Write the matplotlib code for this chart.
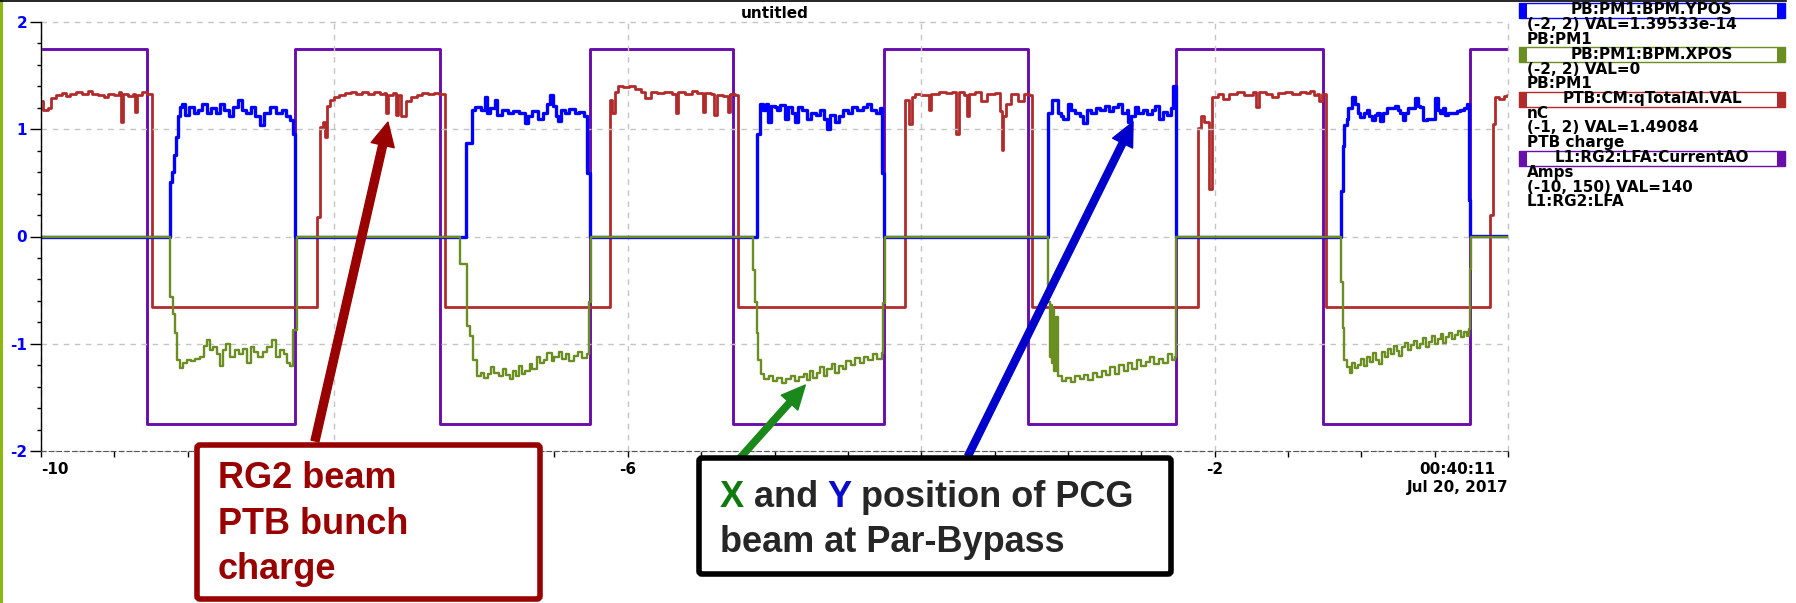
import matplotlib
matplotlib.use("Agg")
import matplotlib.pyplot as plt
from matplotlib.lines import Line2D
from matplotlib.patches import Rectangle, FancyBboxPatch
from matplotlib.ticker import MultipleLocator
from matplotlib.transforms import Affine2D

W, H, DPI = 1796, 603, 100

# StripTool archive, time in minutes relative to 00:40:11 (step samples)
ypos_t = [-10.0,
          -9.121, -9.107, -9.094, -9.08, -9.066, -9.053, -9.04, -9.02, -8.99, -8.96, -8.93,
          -8.90, -8.87, -8.84, -8.81, -8.78, -8.75, -8.72, -8.69, -8.66, -8.63, -8.60, -8.57,
          -8.54, -8.51, -8.48, -8.44, -8.40, -8.36, -8.33, -8.30, -8.285, -8.27,
          -7.103, -7.064, -7.04, -7.00, -6.975, -6.96, -6.94, -6.905, -6.89, -6.86, -6.82,
          -6.78, -6.74, -6.70, -6.68, -6.65, -6.61, -6.58, -6.55, -6.53, -6.51, -6.49, -6.474,
          -6.455, -6.43, -6.40, -6.36, -6.33, -6.30, -6.275, -6.258,
          -5.121, -5.099, -5.08, -5.06, -5.042, -5.025, -5.00, -4.98, -4.96, -4.93, -4.91,
          -4.88, -4.86, -4.84, -4.81, -4.78, -4.75, -4.72, -4.69, -4.66, -4.644, -4.62, -4.59,
          -4.56, -4.53, -4.50, -4.47, -4.44, -4.40, -4.37, -4.34, -4.31, -4.28, -4.265, -4.254,
          -3.134, -3.11, -3.07, -3.05, -3.03, -3.0, -2.98, -2.95, -2.92, -2.895, -2.87, -2.84,
          -2.81, -2.78, -2.75, -2.72, -2.69, -2.66, -2.63, -2.60, -2.588, -2.57, -2.545, -2.52,
          -2.49, -2.46, -2.43, -2.405, -2.38, -2.35, -2.325, -2.30, -2.285, -2.265,
          -1.138, -1.127, -1.115, -1.100, -1.089, -1.066, -1.043, -1.025, -1.009, -0.985,
          -0.964, -0.945, -0.929, -0.91, -0.895, -0.873, -0.85, -0.827, -0.80, -0.770, -0.75,
          -0.736, -0.714, -0.70, -0.680, -0.66, -0.634, -0.615, -0.600, -0.577, -0.55, -0.520,
          -0.498, -0.48, -0.464, -0.445, -0.430, -0.41, -0.384, -0.35, -0.327, -0.30, -0.282,
          -0.265, -0.259, 0.0]
ypos_v = [0.0,
          0.51, 0.60, 0.76, 0.93, 1.12, 1.21, 1.24, 1.13, 1.21, 1.15, 1.18,
          1.24, 1.15, 1.20, 1.15, 1.24, 1.18, 1.12, 1.21, 1.27, 1.18, 1.15, 1.21,
          1.12, 1.04, 1.15, 1.21, 1.15, 1.18, 1.12, 1.09, 0.96, 0.0,
          0.87, 1.18, 1.21, 1.18, 1.30, 1.15, 1.20, 1.27, 1.13, 1.18, 1.15,
          1.17, 1.15, 1.06, 1.12, 1.17, 1.10, 1.15, 1.24, 1.32, 1.22, 1.12, 1.08,
          1.18, 1.15, 1.19, 1.15, 1.16, 1.12, 0.59, 0.0,
          0.96, 1.24, 1.18, 1.24, 1.07, 1.22, 1.21, 1.18, 1.23, 1.10, 1.21,
          1.15, 1.07, 1.21, 1.18, 1.10, 1.15, 1.13, 1.18, 1.10, 1.00, 1.13, 1.07,
          1.12, 1.18, 1.15, 1.21, 1.18, 1.21, 1.24, 1.18, 1.15, 1.20, 0.59, 0.0,
          1.15, 1.27, 1.15, 1.12, 1.10, 1.24, 1.18, 1.15, 1.12, 1.06, 1.18, 1.15,
          1.20, 1.18, 1.22, 1.17, 1.21, 1.24, 1.15, 1.18, 1.07, 1.12, 1.21, 1.15,
          1.18, 1.14, 1.18, 1.22, 1.10, 1.16, 1.13, 1.20, 1.40, 0.0,
          0.42, 0.84, 1.04, 1.10, 1.195, 1.30, 1.24, 1.15, 1.117, 1.15,
          1.18, 1.12, 1.086, 1.13, 1.15, 1.08, 1.15, 1.195, 1.20, 1.22, 1.18,
          1.15, 1.086, 1.15, 1.195, 1.20, 1.29, 1.22, 1.21, 1.086, 1.10, 1.10,
          1.29, 1.18, 1.15, 1.20, 1.133, 1.15, 1.15, 1.17, 1.18, 1.20, 1.24,
          0.34, 1.39533e-14, 1.39533e-14]

xpos_t = [-10.0,
          -9.121, -9.098, -9.087, -9.075, -9.052, -9.03, -9.007, -8.98, -8.95, -8.916,
          -8.89, -8.870, -8.85, -8.825, -8.80, -8.780, -8.76, -8.74, -8.71, -8.68,
          -8.65, -8.62, -8.598, -8.57, -8.55, -8.519, -8.49, -8.462, -8.427, -8.40,
          -8.37, -8.345, -8.325, -8.303, -8.280, -8.257,
          -7.144, -7.098, -7.076, -7.053, -7.03, -7.00, -6.98, -6.95, -6.93, -6.91,
          -6.88, -6.85, -6.83, -6.80, -6.78, -6.76, -6.74, -6.72, -6.70, -6.67,
          -6.65, -6.62, -6.60, -6.57, -6.55, -6.52, -6.50, -6.47, -6.45, -6.42,
          -6.40, -6.37, -6.34, -6.31, -6.28, -6.262, -6.25,
          -5.144, -5.133, -5.121, -5.11, -5.09, -5.07, -5.04, -5.01, -4.98, -4.95,
          -4.92, -4.89, -4.86, -4.83, -4.80, -4.78, -4.76, -4.74, -4.71, -4.69,
          -4.66, -4.64, -4.61, -4.59, -4.56, -4.53, -4.51, -4.48, -4.45, -4.42,
          -4.39, -4.36, -4.33, -4.30, -4.27, -4.257, -4.248,
          -3.134, -3.125, -3.117, -3.109, -3.10, -3.092, -3.083, -3.07, -3.04, -3.01,
          -2.98, -2.95, -2.92, -2.89, -2.86, -2.83, -2.80, -2.77, -2.74, -2.71,
          -2.68, -2.65, -2.62, -2.59, -2.56, -2.53, -2.50, -2.47, -2.44, -2.41,
          -2.38, -2.35, -2.32, -2.29, -2.27, -2.262,
          -1.138, -1.127, -1.115, -1.10, -1.08, -1.06, -1.04, -1.02, -1.00, -0.98,
          -0.96, -0.94, -0.92, -0.90, -0.88, -0.86, -0.84, -0.82, -0.80, -0.78,
          -0.76, -0.74, -0.72, -0.70, -0.68, -0.66, -0.64, -0.62, -0.60, -0.58,
          -0.56, -0.54, -0.52, -0.50, -0.48, -0.46, -0.44, -0.42, -0.40, -0.38,
          -0.36, -0.34, -0.32, -0.30, -0.28, -0.265, -0.259, -0.25, 0.0]
xpos_v = [0.0,
          -0.56, -0.72, -0.90, -1.15, -1.23, -1.18, -1.15, -1.16, -1.14, -1.12,
          -1.02, -0.965, -1.06, -1.027, -1.10, -1.21, -1.06, -1.00, -1.12, -1.06,
          -1.10, -1.05, -1.18, -1.03, -1.08, -1.12, -1.08, -1.03, -0.965, -1.12,
          -1.06, -1.10, -1.18, -1.21, -0.87, 0.0,
          -0.256, -0.83, -0.93, -1.15, -1.30, -1.27, -1.32, -1.28, -1.22, -1.27,
          -1.30, -1.24, -1.29, -1.33, -1.25, -1.30, -1.21, -1.28, -1.25, -1.19,
          -1.24, -1.12, -1.18, -1.15, -1.09, -1.16, -1.12, -1.08, -1.14, -1.10,
          -1.16, -1.11, -1.08, -1.13, -1.10, -0.61, 0.0,
          -0.31, -0.61, -0.90, -1.15, -1.28, -1.33, -1.30, -1.35, -1.32, -1.37,
          -1.33, -1.30, -1.35, -1.31, -1.28, -1.34, -1.25, -1.32, -1.27, -1.22,
          -1.30, -1.24, -1.19, -1.27, -1.21, -1.24, -1.16, -1.20, -1.13, -1.18,
          -1.12, -1.15, -1.10, -1.14, -1.09, -0.62, 0.0,
          -0.61, -1.12, -0.64, -1.18, -0.68, -1.25, -0.75, -1.30, -1.35, -1.32,
          -1.36, -1.30, -1.33, -1.29, -1.34, -1.27, -1.31, -1.25, -1.29, -1.22,
          -1.28, -1.20, -1.25, -1.18, -1.24, -1.15, -1.21, -1.17, -1.12, -1.19,
          -1.14, -1.18, -1.10, -1.15, -1.12, 0.0,
          -0.42, -0.856, -1.15, -1.22, -1.27, -1.18, -1.23, -1.20, -1.14, -1.21,
          -1.12, -1.17, -1.09, -1.15, -1.19, -1.08, -1.12, -1.05, -1.10, -1.02,
          -1.07, -1.11, -1.03, -0.99, -1.06, -1.01, -0.97, -1.04, -1.00, -0.95,
          -1.03, -0.98, -0.93, -1.00, -0.96, -0.91, -0.99, -0.94, -0.90, -0.96,
          -0.92, -0.88, -0.94, -0.89, -0.93, -0.86, -0.30, 0.0, 0.0]

charge_t = [-10.0, -9.985, -9.95, -9.93, -9.90, -9.86, -9.83, -9.80, -9.76, -9.72, -9.68,
            -9.65, -9.61, -9.57, -9.54, -9.50, -9.47, -9.455, -9.44, -9.41, -9.37, -9.36,
            -9.345, -9.31, -9.28, -9.245,
            -8.121, -8.098, -8.075, -8.064, -8.052, -8.03, -8.0, -7.97, -7.93, -7.89,
            -7.85, -7.81, -7.77, -7.73, -7.69, -7.66, -7.645, -7.635, -7.60, -7.58,
            -7.565, -7.545, -7.51, -7.48, -7.44, -7.40, -7.36, -7.32, -7.29, -7.246,
            -6.121, -6.105, -6.085, -6.07, -6.03, -5.99, -5.95, -5.91, -5.88, -5.84,
            -5.80, -5.75, -5.70, -5.67, -5.655, -5.61, -5.565, -5.53, -5.49, -5.475,
            -5.43, -5.41, -5.39, -5.35, -5.32, -5.30, -5.27, -5.247,
            -4.111, -4.085, -4.065, -4.04, -4.00, -3.95, -3.93, -3.88, -3.83, -3.79,
            -3.76, -3.745, -3.71, -3.69, -3.675, -3.63, -3.59, -3.55, -3.50, -3.465,
            -3.452, -3.44, -3.42, -3.39, -3.34, -3.30, -3.265, -3.247,
            -2.11, -2.09, -2.07, -2.035, -2.015, -1.98, -1.94, -1.90, -1.85, -1.80,
            -1.74, -1.715, -1.70, -1.65, -1.61, -1.57, -1.52, -1.47, -1.42, -1.38,
            -1.35, -1.32, -1.30, -1.285, -1.27, -1.24,
            -0.122, -0.104, -0.088, -0.06, -0.03, -0.008, 0.0]
charge_v = [1.45, 1.385, 1.40, 1.47, 1.49, 1.505, 1.48, 1.50, 1.51, 1.495, 1.52,
            1.50, 1.49, 1.475, 1.50, 1.49, 1.51, 1.30, 1.50, 1.485, 1.50, 1.37,
            1.49, 1.51, 1.50, 0.01,
            0.635, 1.265, 1.30, 1.1975, 1.41, 1.4525, 1.475, 1.49, 1.505, 1.51,
            1.50, 1.51, 1.50, 1.51, 1.495, 1.505, 1.3625, 1.49, 1.505, 1.35,
            1.49, 1.34, 1.45, 1.475, 1.49, 1.505, 1.495, 1.505, 1.50, 0.01,
            1.4525, 1.3625, 1.5125, 1.55, 1.545, 1.55, 1.53, 1.51, 1.4675, 1.51,
            1.505, 1.51, 1.50, 1.3625, 1.51, 1.495, 1.52, 1.505, 1.37, 1.505,
            1.50, 1.3475, 1.49, 1.48, 1.37, 1.50, 1.49, 0.01,
            1.4525, 1.2875, 1.475, 1.4975, 1.49, 1.385, 1.4975, 1.51, 1.505, 1.51,
            1.22, 1.51, 1.49, 1.34, 1.4975, 1.51, 1.445, 1.50, 1.505, 1.3775,
            1.1075, 1.34, 1.43, 1.4975, 1.445, 1.50, 1.49, 0.01,
            1.2575, 1.34, 1.30, 0.83, 1.475, 1.4975, 1.465, 1.4975, 1.51, 1.49,
            1.51, 1.4075, 1.51, 1.495, 1.475, 1.505, 1.51, 1.4975, 1.51, 1.505,
            1.52, 1.49, 1.50, 1.445, 1.495, 0.01,
            0.65, 1.29, 1.475, 1.46, 1.4825, 1.49084, 1.49084]

current_t = [-10.0, -9.28, -8.27, -7.28, -6.258, -5.285, -4.254, -3.27, -2.265, -1.259, -0.259, 0.0]
current_v = [140, 0, 140, 0, 140, 0, 140, 0, 140, 0, 140, 140]

# pv names, units, display ranges and descriptions as listed in the legend
names = ["PB:PM1:BPM.YPOS", "PB:PM1:BPM.XPOS", "PTB:CM:qTotalAI.VAL", "L1:RG2:LFA:CurrentAO"]
units = ["", "", "nC", "Amps"]
ranges = [(-2, 2), (-2, 2), (-1, 2), (-10, 150)]
descs = ["PB:PM1", "PB:PM1", "PTB charge", "L1:RG2:LFA"]
colors = ["#0000FF", "#6B8E23", "#B22B2B", "#6A0DAD"]

x_ticks = [-10, -8, -6, -4, -2, 0]
# -8 and -4 sit under the callout boxes
x_labels = ["-10", "", "-6", "", "-2", "00:40:11\nJul 20, 2017"]
y_ticks = [-2, -1, 0, 1, 2]

fig = plt.figure(figsize=(W / DPI, H / DPI), dpi=DPI)
# pixel units, origin at bottom left
PX = Affine2D().scale(1 / DPI) + fig.dpi_scale_trans

ax = fig.add_axes([41 / W, 1 - 451 / H, (1508 - 41) / W, (451 - 22) / H])
ax_i = ax.twinx()
ax_q = ax.twinx()
for a, z in ((ax_i, 1), (ax_q, 2), (ax, 3)):
    a.set_zorder(z)
    a.patch.set_visible(False)
ax_i.axis("off")
ax_q.axis("off")

ax_i.plot(current_t, current_v, drawstyle="steps-post", color=colors[3], lw=2.1)
ax_q.plot(charge_t, charge_v, drawstyle="steps-post", color=colors[2], lw=2.0)
ax.plot(ypos_t, ypos_v, drawstyle="steps-post", color=colors[0], lw=2.4)
ax.plot(xpos_t, xpos_v, drawstyle="steps-post", color=colors[1], lw=1.7)

ax.set_xlim(-10, 0)
ax.set_ylim(*ranges[0])
ax_q.set_ylim(*ranges[2])
ax_i.set_ylim(*ranges[3])

ax.grid(True, which="major", color="#c4c4c4", linestyle=(0, (4, 4)), linewidth=1.0)
for gl in ax.get_xgridlines() + ax.get_ygridlines():
    gl.set_clip_on(False)
ax.spines["top"].set_visible(False)
ax.spines["right"].set_visible(False)
ax.spines["left"].set_color("black")
ax.spines["left"].set_linewidth(1.0)
ax.spines["bottom"].set_color("#555555")
ax.spines["bottom"].set_linestyle((0, (4, 3)))

ax.set_xticks(x_ticks, x_labels, fontsize=11, fontweight="bold")
ax.xaxis.set_minor_locator(MultipleLocator(0.5))
ax.set_yticks(y_ticks, [str(v) for v in y_ticks], fontsize=11, fontweight="bold")
ax.yaxis.set_minor_locator(MultipleLocator(0.2))
ax.tick_params(axis="x", which="both", direction="out", length=4, width=1, pad=4)
ax.tick_params(axis="y", which="major", direction="out", length=8, width=1, pad=2,
               labelcolor="#0000FF")
ax.tick_params(axis="y", which="minor", direction="out", length=3, width=1)
xl = ax.get_xticklabels()
xl[0].set_horizontalalignment("left")
xl[-1].set_horizontalalignment("right")
xl[-1].set_multialignment("center")

ax.set_title("untitled", fontsize=11, fontweight="bold", pad=3)

# slide frame
fig.add_artist(Line2D([1.2, 1.2], [0, H], transform=PX, color="#8DB814", lw=2.2))
fig.add_artist(Line2D([0, 1786], [H - 1, H - 1], transform=PX, color="black", lw=1.2))


def legend_box(y_mid, label, color):
    x0, x1, h, bar = 1519, 1785, 15, 8
    yb = H - y_mid - h / 2
    fig.add_artist(Rectangle((x0, yb), x1 - x0, h, transform=PX,
                             facecolor="white", edgecolor=color, lw=1.0))
    for xb in (x0, x1 - bar):
        fig.add_artist(Rectangle((xb, yb), bar, h, transform=PX,
                                 facecolor=color, edgecolor="none"))
    fig.text((x0 + x1) / 2, H - y_mid, label, transform=PX, ha="center", va="center",
             fontsize=11, fontweight="bold")


last_vals = [ypos_v[-1], xpos_v[-1], charge_v[-1], current_v[-1]]
y = 10
for name, unit, (lo, hi), desc, col, val in zip(names, units, ranges, descs, colors, last_vals):
    legend_box(y, name, col)
    rows = ([unit] if unit else []) + [f"({lo}, {hi}) VAL={val:g}", desc]
    for row in rows:
        y += 14.5
        fig.text(1527, H - y, row, transform=PX, ha="left", va="center",
                 fontsize=11, fontweight="bold")
    y += 15.5

# callout boxes
DARK_RED = "#990000"
TXT = "#262626"
note_font = dict(family="Liberation Sans", fontweight="bold", fontsize=26)


def note_box(x0, y0, x1, y1, edge):
    fig.add_artist(FancyBboxPatch((x0, H - y1), x1 - x0, y1 - y0, transform=PX,
                                  boxstyle="round,pad=0,rounding_size=3",
                                  facecolor="white", edgecolor=edge, lw=4, zorder=10))


note_box(197, 445, 540, 599, DARK_RED)
for line, base in zip(["RG2 beam", "PTB bunch", "charge"], [488, 534, 579]):
    fig.text(218, H - base, line, transform=PX, va="baseline", color=DARK_RED,
             zorder=11, **note_font)

note_box(699, 458, 1171, 574, "black")
renderer = fig.canvas.get_renderer()


def text_width(s):
    probe = fig.text(0, 0, s, transform=PX, **note_font)
    w = probe.get_window_extent(renderer).width * DPI / fig.dpi
    probe.remove()
    return w


# first line in three colours, each piece placed after the text before it
x_start = 720
pieces = [("X", "X", "#0E7A0E"),
          ("X and", "and", TXT),
          ("X and Y", "Y", "#0A0ACC"),
          ("X and Y position of PCG", "position of PCG", TXT)]
for upto, piece, col in pieces:
    x_piece = x_start + text_width(upto) - text_width(piece)
    fig.text(x_piece, H - 507, piece, transform=PX, va="baseline", color=col,
             zorder=11, **note_font)
fig.text(x_start, H - 552, "beam at Par-Bypass", transform=PX, va="baseline", color=TXT,
         zorder=11, **note_font)


def arrow(tip, tip_trans, tail, color, tw, hw, hl):
    ax.annotate("", xy=tip, xycoords=tip_trans, xytext=(tail[0], H - tail[1]), textcoords=PX,
                annotation_clip=False,
                arrowprops=dict(arrowstyle=f"simple,head_length={hl},head_width={hw},tail_width={tw}",
                                color=color, shrinkA=0, shrinkB=0, mutation_scale=1))


arrow((-7.635, 1.30), ax_q.transData, (315, 441), DARK_RED, 5.8, 17, 17)
arrow((-4.79, -1.385), ax.transData, (740, 458), "#1A881A", 4.5, 16, 17)
arrow((-2.556, 1.068), ax.transData, (968, 456), "#0000CC", 5.0, 16, 17)

fig.savefig("out.png", dpi=DPI)
